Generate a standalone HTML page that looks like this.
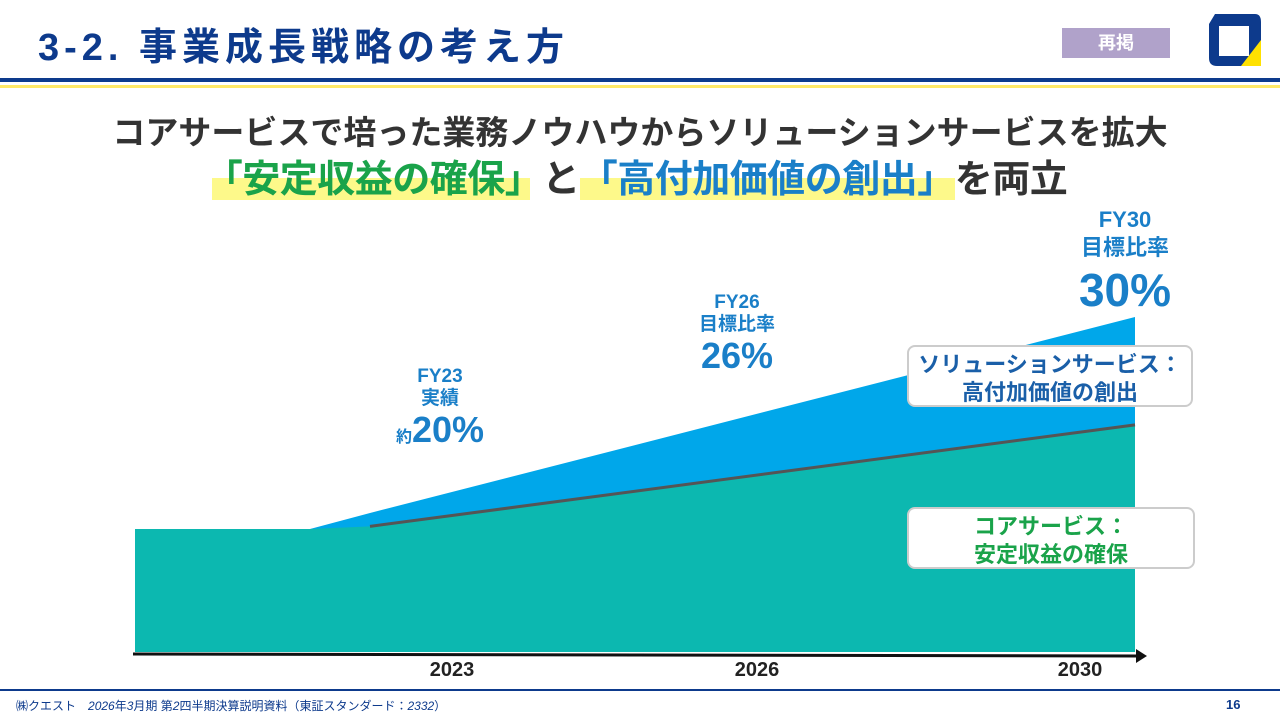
<!DOCTYPE html>
<html><head><meta charset="utf-8">
<style>
body{margin:0;width:1280px;height:720px;position:relative;background:#fff;overflow:hidden;font-family:"Liberation Sans","Noto Sans CJK JP",sans-serif;}
.abs{position:absolute;}
.t{font-weight:bold;}
</style></head><body>
<div class="abs t" style="left:38px;top:16px;font-size:38px;color:#0d3a8c;letter-spacing:5px;">3-2. 事業成長戦略の考え方</div>
<div class="abs t" style="left:1062px;top:28px;width:108px;height:30px;background:#b0a2ca;color:#fff;font-size:18px;text-align:center;line-height:30px;">再掲</div>
<svg class="abs" style="left:1205px;top:10px" width="58" height="60" viewBox="0 0 58 60">
<path d="M10 4 H50 Q56 4 56 12 V56 H12 Q4 56 4 48 V14 Z" fill="#0d3a8c"/>
<rect x="14" y="16" width="30" height="30" fill="#fff"/>
<polygon points="56,30 56,56 36,56" fill="#ffe100"/>
</svg>
<div class="abs" style="left:0;top:78px;width:1280px;height:4px;background:#0d3a8c;"></div>
<div class="abs" style="left:0;top:85px;width:1280px;height:3px;background:#ffe866;"></div>
<div class="abs t" style="left:0;width:1280px;top:106px;text-align:center;font-size:33px;color:#333;">コアサービスで培った業務ノウハウからソリューションサービスを拡大</div>
<div class="abs" style="left:212px;top:178px;width:318px;height:22px;background:#fdf98a;"></div>
<div class="abs" style="left:580px;top:178px;width:375px;height:22px;background:#fdf98a;"></div>
<div class="abs t" style="left:0;width:1272px;top:148px;text-align:center;font-size:38px;color:#333;white-space:nowrap;letter-spacing:-0.5px;"><span style="color:#1aa34a">「安定収益の確保」</span>と<span style="color:#1a7fc8">「高付加価値の創出」</span>を両立</div>

<svg class="abs" style="left:0;top:0" width="1280" height="720" id="chart"></svg>

<div class="abs t" style="left:360px;top:366px;width:160px;text-align:center;color:#1a7fc8;font-size:19px;line-height:22px;">FY23<br>実績<br><span style="font-size:16px">約</span><span style="font-size:36px;line-height:40px">20%</span></div>
<div class="abs t" style="left:657px;top:292px;width:160px;text-align:center;color:#1a7fc8;font-size:19px;line-height:22px;">FY26<br>目標比率<br><span style="font-size:36px;line-height:40px">26%</span></div>
<div class="abs t" style="left:1045px;top:206px;width:160px;text-align:center;color:#1a7fc8;font-size:22px;line-height:28px;">FY30<br>目標比率<br><span style="font-size:46px;line-height:56px">30%</span></div>
<div class="abs t" style="left:907px;top:345px;width:286px;height:62px;border:2px solid #ccc;border-radius:8px;background:#fff;color:#1a5fa8;font-size:22px;line-height:28px;text-align:center;padding-top:4px;box-sizing:border-box;">ソリューションサービス：<br>高付加価値の創出</div>
<div class="abs t" style="left:907px;top:507px;width:288px;height:62px;border:2px solid #ccc;border-radius:8px;background:#fff;color:#1aa34a;font-size:22px;line-height:28px;text-align:center;padding-top:4px;box-sizing:border-box;">コアサービス：<br>安定収益の確保</div>

<div class="abs" style="left:0;top:689px;width:1280px;height:2px;background:#0d3a8c;"></div>
<div class="abs" style="left:16px;top:697px;font-size:12px;color:#0d3a8c;">㈱クエスト　<i>2026</i>年<i>3</i>月期 第<i>2</i>四半期決算説明資料（東証スタンダード：<i>2332</i>）</div>
<div class="abs t" style="left:1226px;top:697px;font-size:13px;color:#0d3a8c;">16</div>

<script>
const xPoints = [0, 17.5, 23.5, 100];
const coreValues = [36.7, 36.7, 37.5, 67.8];
const totalValues = [36.7, 36.7, 41.5, 100];
const xTickLabels = ["2023", "2026", "2030"];
const xTickPos = [31.7, 62.2, 94.5];

const ns = "http://www.w3.org/2000/svg";
const svg = document.getElementById("chart");
const X = v => 135 + v * 10;
const Y = v => 652 - v * 3.35;
function poly(vals, fill, name) {
  let pts = xPoints.map((x, i) => X(x) + "," + Y(vals[i])).join(" ");
  pts += " " + X(100) + "," + Y(0) + " " + X(0) + "," + Y(0);
  const p = document.createElementNS(ns, "polygon");
  p.setAttribute("points", pts);
  p.setAttribute("fill", fill);
  
  
  svg.appendChild(p);
}
poly(totalValues, "#00a7ea", "solution-area");
poly(coreValues, "#0cb8b0", "core-area");
const line = document.createElementNS(ns, "polyline");
line.setAttribute("points", xPoints.slice(2).map((x, i) => X(x) + "," + Y(coreValues[i + 2])).join(" "));
line.setAttribute("stroke", "#555");
line.setAttribute("stroke-width", "3");
line.setAttribute("fill", "none");


svg.appendChild(line);
const ax = document.createElementNS(ns, "line");
ax.setAttribute("x1", 133); ax.setAttribute("y1", 654);
ax.setAttribute("x2", 1140); ax.setAttribute("y2", 656);
ax.setAttribute("stroke", "#111"); ax.setAttribute("stroke-width", "3");


svg.appendChild(ax);
const ar = document.createElementNS(ns, "polygon");
ar.setAttribute("points", "1136,649 1147,656 1136,663");
ar.setAttribute("fill", "#111");


svg.appendChild(ar);
xTickLabels.forEach((l, i) => {
  const t = document.createElementNS(ns, "text");
  t.setAttribute("x", X(xTickPos[i]));
  t.setAttribute("y", 676);
  t.setAttribute("text-anchor", "middle");
  t.setAttribute("font-size", "20");
  t.setAttribute("font-weight", "bold");
  t.setAttribute("fill", "#222");
  t.setAttribute("font-family", "Liberation Sans, sans-serif");
  t.textContent = l;
  
  
  svg.appendChild(t);
});
</script>
</body></html>
